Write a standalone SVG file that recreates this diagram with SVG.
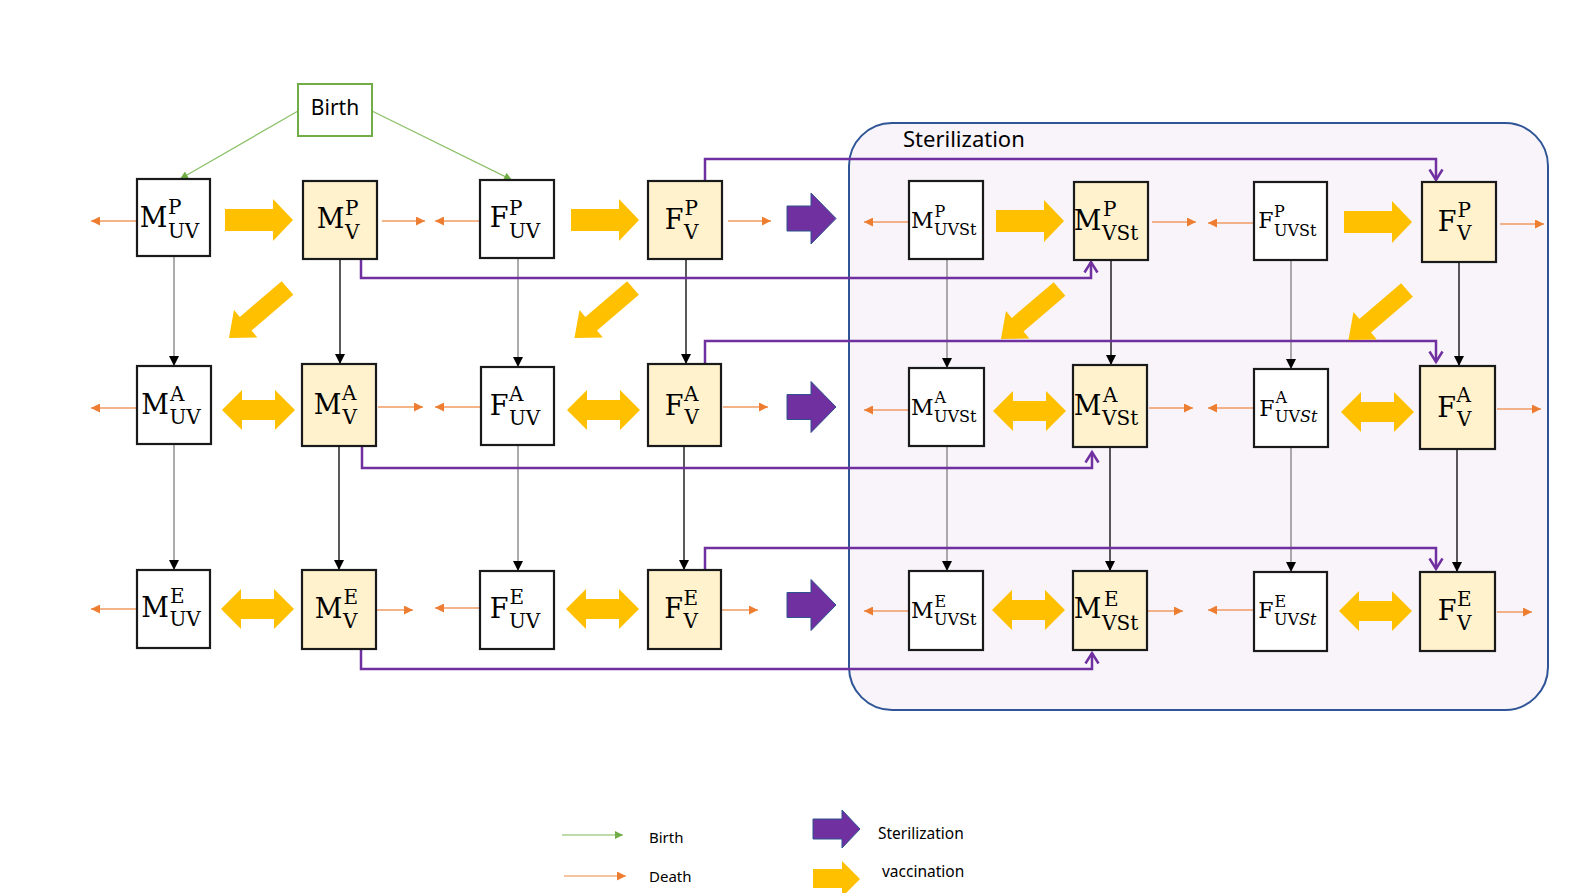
<svg xmlns="http://www.w3.org/2000/svg" width="1589" height="893" viewBox="0 0 1589 893">
<style>
.box{stroke:#1a1a1a;stroke-width:2.2;fill:#fff}
.vac{fill:#FFF2CC}
.m{font-family:"DejaVu Serif","Liberation Serif",serif;fill:#000}
.mn{text-anchor:end}
.big{font-size:27px}
.sc{font-size:20px}
.smb{font-size:22px}
.sms{font-size:16px}
.lab{font-family:"Noto Sans","Open Sans",sans-serif;fill:#000}
.pl{fill:none;stroke:#7030A0;stroke-width:2.5;marker-end:url(#mp)}
.vg{stroke:#7f7f7f;stroke-width:1.3;marker-end:url(#mb)}
.vb{stroke:#000;stroke-width:1.3;marker-end:url(#mb)}
.death{stroke:#F19B62;stroke-width:1.4;marker-end:url(#mo)}
.birth{stroke:#8CC168;stroke-width:1.3;marker-end:url(#mg)}
.yel{fill:#FFC000}
.pur{fill:#7030A0;stroke:#2F528F;stroke-width:1}
</style>
<defs>
<marker id="mb" markerUnits="userSpaceOnUse" viewBox="0 0 10 10" markerWidth="10" markerHeight="10" refX="10" refY="5" orient="auto"><path d="M0,0L10,5L0,10Z" fill="#000"/></marker>
<marker id="mo" markerUnits="userSpaceOnUse" viewBox="0 0 10 10" markerWidth="9" markerHeight="9" refX="10" refY="5" orient="auto"><path d="M0,0L10,5L0,10Z" fill="#ED7D31"/></marker>
<marker id="mg" markerUnits="userSpaceOnUse" viewBox="0 0 10 10" markerWidth="9" markerHeight="8" refX="10" refY="5" orient="auto"><path d="M0,0L10,5L0,10Z" fill="#70AD47"/></marker>
<marker id="mp" markerUnits="userSpaceOnUse" viewBox="0 0 16 16" markerWidth="16" markerHeight="16" refX="12" refY="8" orient="auto"><path d="M1.5,1.5L12,8L1.5,14.5" fill="none" stroke="#7030A0" stroke-width="2.5"/></marker>
<path id="yArrow" d="M0,-11H48V-21L68,0L48,21V11H0Z"/>
<path id="yDouble" d="M0,0L20,-20V-10H53V-20L73,0L53,20V10H20V20Z"/>
<path id="yDiag" d="M0,-9H55V-18L77,0L55,18V9H0Z"/>
<path id="pArrow" d="M0,-12.5H24V-25.5L49,0L24,25.5V12.5H0Z"/>
</defs>
<rect width="1589" height="893" fill="#fff"/>

<g id="sterilization">
<rect x="849" y="123" width="699" height="587" rx="43" fill="#F8F4FA" stroke="#2F5597" stroke-width="2"/>
<text x="903" y="147" class="lab" font-size="22">Sterilization</text>
</g>

<g id="connectors">
<g id="birth-links">
<line class="birth" x1="298" y1="111" x2="180" y2="179"/>
<line class="birth" x1="372" y1="111" x2="512" y2="180"/>
</g>
<g id="ageing">
<line class="vg" x1="174" y1="256" x2="174" y2="366"/>
<line class="vg" x1="174" y1="444" x2="174" y2="570"/>
<line class="vb" x1="340" y1="259" x2="340" y2="364"/>
<line class="vb" x1="339" y1="446" x2="339" y2="570"/>
<line class="vg" x1="518" y1="258" x2="518" y2="367"/>
<line class="vg" x1="518" y1="445" x2="518" y2="571"/>
<line class="vb" x1="686" y1="259" x2="686" y2="364"/>
<line class="vb" x1="684" y1="446" x2="684" y2="570"/>
<line class="vg" x1="947" y1="259" x2="947" y2="368"/>
<line class="vg" x1="947" y1="446" x2="947" y2="571"/>
<line class="vb" x1="1111" y1="260" x2="1111" y2="365"/>
<line class="vb" x1="1110" y1="447" x2="1110" y2="571"/>
<line class="vg" x1="1291" y1="260" x2="1291" y2="369"/>
<line class="vg" x1="1291" y1="447" x2="1291" y2="572"/>
<line class="vb" x1="1459" y1="262" x2="1459" y2="366"/>
<line class="vb" x1="1457" y1="449" x2="1457" y2="572"/>
</g>
<g id="deaths">
<line class="death" x1="137" y1="221" x2="91" y2="221"/>
<line class="death" x1="382" y1="221" x2="425" y2="221"/>
<line class="death" x1="480" y1="221" x2="435" y2="221"/>
<line class="death" x1="728" y1="221" x2="771" y2="221"/>
<line class="death" x1="909" y1="222" x2="864" y2="222"/>
<line class="death" x1="1152" y1="222" x2="1196" y2="222"/>
<line class="death" x1="1254" y1="223" x2="1208" y2="223"/>
<line class="death" x1="1500" y1="224" x2="1544" y2="224"/>
<line class="death" x1="137" y1="408" x2="91" y2="408"/>
<line class="death" x1="378" y1="407" x2="423" y2="407"/>
<line class="death" x1="481" y1="407" x2="435" y2="407"/>
<line class="death" x1="723" y1="407" x2="768" y2="407"/>
<line class="death" x1="909" y1="410" x2="864" y2="410"/>
<line class="death" x1="1149" y1="408" x2="1193" y2="408"/>
<line class="death" x1="1254" y1="408" x2="1208" y2="408"/>
<line class="death" x1="1497" y1="409" x2="1541" y2="409"/>
<line class="death" x1="137" y1="609" x2="91" y2="609"/>
<line class="death" x1="377" y1="610" x2="413" y2="610"/>
<line class="death" x1="480" y1="608" x2="435" y2="608"/>
<line class="death" x1="722" y1="610" x2="758" y2="610"/>
<line class="death" x1="909" y1="611" x2="864" y2="611"/>
<line class="death" x1="1148" y1="611" x2="1183" y2="611"/>
<line class="death" x1="1254" y1="610" x2="1208" y2="610"/>
<line class="death" x1="1497" y1="612" x2="1532" y2="612"/>
</g>
<g id="sterilization-links">
<path class="pl" d="M361,259V278H1091V262"/>
<path class="pl" d="M362,447V468H1092V452"/>
<path class="pl" d="M361,649V669H1092V653"/>
<path class="pl" d="M705,181V159H1436V180"/>
<path class="pl" d="M705,364V341H1436V362"/>
<path class="pl" d="M705,570V548H1436V569"/>
</g>
<g id="vaccination-arrows" class="yel">
<use href="#yArrow" x="225" y="220"/>
<use href="#yArrow" x="571" y="220"/>
<use href="#yArrow" x="996" y="221"/>
<use href="#yArrow" x="1344" y="222"/>
<use href="#yDouble" x="222" y="410"/>
<use href="#yDouble" x="567" y="410"/>
<use href="#yDouble" x="993" y="411"/>
<use href="#yDouble" x="1341" y="412"/>
<use href="#yDouble" x="221" y="609"/>
<use href="#yDouble" x="566" y="609"/>
<use href="#yDouble" x="992" y="610"/>
<use href="#yDouble" x="1339" y="611"/>
<use href="#yDiag" transform="translate(287.5,288) rotate(139.5)"/>
<use href="#yDiag" transform="translate(633,288) rotate(139.5)"/>
<use href="#yDiag" transform="translate(1059.5,289) rotate(139.5)"/>
<use href="#yDiag" transform="translate(1407,290) rotate(139.5)"/>
</g>
<g id="sterilization-arrows" class="pur">
<use href="#pArrow" x="787" y="218.5"/>
<use href="#pArrow" x="787" y="407"/>
<use href="#pArrow" x="787" y="605"/>
</g>
</g>

<g id="Birth"><rect x="298" y="84" width="74" height="52" fill="#fff" stroke="#70AD47" stroke-width="2"/><text x="335" y="115" class="lab" font-size="21" text-anchor="middle">Birth</text></g>

<g id="M_P_UV"><rect class="box" x="137" y="179" width="73" height="77"/><text class="m big mn" x="167.5" y="227">M</text><text class="m sc"><tspan x="168" y="214.25">P</tspan><tspan x="168" y="237.75">UV</tspan></text></g>
<g id="M_P_V"><rect class="box vac" x="303" y="181" width="74" height="78"/><text class="m big mn" x="344.5" y="228">M</text><text class="m sc"><tspan x="345" y="215.25">P</tspan><tspan x="345" y="238.75">V</tspan></text></g>
<g id="F_P_UV"><rect class="box" x="480" y="180" width="74" height="78"/><text class="m big mn" x="508.5" y="227">F</text><text class="m sc"><tspan x="509" y="214.75">P</tspan><tspan x="509" y="238.25">UV</tspan></text></g>
<g id="F_P_V"><rect class="box vac" x="648" y="181" width="74" height="78"/><text class="m big mn" x="683.5" y="229">F</text><text class="m sc"><tspan x="684.5" y="215.25">P</tspan><tspan x="684" y="238.75">V</tspan></text></g>
<g id="M_P_UVSt"><rect class="box" x="909" y="181" width="74" height="78"/><text class="m smb mn" x="933.5" y="228">M</text><text class="m sms"><tspan x="934.5" y="216.6">P</tspan><tspan x="934" y="235.4">UVSt</tspan></text></g>
<g id="M_P_VSt"><rect class="box vac" x="1074" y="182" width="74" height="78"/><text class="m big mn" x="1101.5" y="230">M</text><text class="m sc"><tspan x="1103" y="216.25">P</tspan><tspan x="1102" y="239.75">VSt</tspan></text></g>
<g id="F_P_UVSt"><rect class="box" x="1254" y="182" width="73" height="78"/><text class="m smb mn" x="1273.5" y="228">F</text><text class="m sms"><tspan x="1274" y="217.1">P</tspan><tspan x="1274" y="235.9">UVSt</tspan></text></g>
<g id="F_P_V_St"><rect class="box vac" x="1422" y="182" width="74" height="80"/><text class="m big mn" x="1456.5" y="231">F</text><text class="m sc"><tspan x="1457.5" y="216.75">P</tspan><tspan x="1457" y="240.25">V</tspan></text></g>

<g id="M_A_UV"><rect class="box" x="137" y="366" width="74" height="78"/><text class="m big mn" x="169" y="414">M</text><text class="m sc"><tspan x="170" y="400.75">A</tspan><tspan x="169.5" y="424.25">UV</tspan></text></g>
<g id="M_A_V"><rect class="box vac" x="302" y="364" width="74" height="82"/><text class="m big mn" x="341.5" y="414">M</text><text class="m sc"><tspan x="342" y="400.25">A</tspan><tspan x="342.5" y="423.75">V</tspan></text></g>
<g id="F_A_UV"><rect class="box" x="481" y="367" width="73" height="78"/><text class="m big mn" x="508.5" y="415">F</text><text class="m sc"><tspan x="509" y="401.25">A</tspan><tspan x="509" y="424.75">UV</tspan></text></g>
<g id="F_A_V"><rect class="box vac" x="648" y="364" width="73" height="82"/><text class="m big mn" x="683.5" y="415">F</text><text class="m sc"><tspan x="684" y="400.75">A</tspan><tspan x="684.5" y="424.25">V</tspan></text></g>
<g id="M_A_UVSt"><rect class="box" x="909" y="368" width="75" height="78"/><text class="m smb mn" x="933.5" y="415">M</text><text class="m sms"><tspan x="934.5" y="403.1">A</tspan><tspan x="934" y="421.9">UVSt</tspan></text></g>
<g id="M_A_VSt"><rect class="box vac" x="1073" y="365" width="74" height="82"/><text class="m big mn" x="1101.5" y="415">M</text><text class="m sc"><tspan x="1103" y="401.75">A</tspan><tspan x="1102" y="425.25">VSt</tspan></text></g>
<g id="F_A_UVSt"><rect class="box" x="1254" y="369" width="74" height="78"/><text class="m smb mn" x="1274.5" y="416">F</text><text class="m sms"><tspan x="1275.5" y="403.1">A</tspan><tspan x="1275" y="421.9">UV<tspan font-style="italic">St</tspan></tspan></text></g>
<g id="F_A_V_St"><rect class="box vac" x="1420" y="366" width="75" height="83"/><text class="m big mn" x="1456" y="417">F</text><text class="m sc"><tspan x="1456.5" y="402.25">A</tspan><tspan x="1457" y="425.75">V</tspan></text></g>

<g id="M_E_UV"><rect class="box" x="137" y="570" width="73" height="78"/><text class="m big mn" x="169" y="617">M</text><text class="m sc"><tspan x="170" y="602.75">E</tspan><tspan x="169.5" y="626.25">UV</tspan></text></g>
<g id="M_E_V"><rect class="box vac" x="302" y="570" width="74" height="79"/><text class="m big mn" x="342.5" y="618">M</text><text class="m sc"><tspan x="343.5" y="604.25">E</tspan><tspan x="343" y="627.75">V</tspan></text></g>
<g id="F_E_UV"><rect class="box" x="480" y="571" width="74" height="78"/><text class="m big mn" x="508.5" y="618">F</text><text class="m sc"><tspan x="509.5" y="604.25">E</tspan><tspan x="509" y="627.75">UV</tspan></text></g>
<g id="F_E_V"><rect class="box vac" x="648" y="570" width="73" height="79"/><text class="m big mn" x="683" y="618">F</text><text class="m sc"><tspan x="683.5" y="604.75">E</tspan><tspan x="683.5" y="628.25">V</tspan></text></g>
<g id="M_E_UVSt"><rect class="box" x="909" y="571" width="74" height="79"/><text class="m smb mn" x="933.5" y="618">M</text><text class="m sms"><tspan x="934.5" y="606.6">E</tspan><tspan x="934" y="625.4">UVSt</tspan></text></g>
<g id="M_E_VSt"><rect class="box vac" x="1073" y="571" width="74" height="79"/><text class="m big mn" x="1101.5" y="618">M</text><text class="m sc"><tspan x="1104" y="606.25">E</tspan><tspan x="1102" y="629.75">VSt</tspan></text></g>
<g id="F_E_UVSt"><rect class="box" x="1254" y="572" width="73" height="79"/><text class="m smb mn" x="1273.5" y="618">F</text><text class="m sms"><tspan x="1274.5" y="606.6">E</tspan><tspan x="1274" y="625.4">UV<tspan font-style="italic">St</tspan></tspan></text></g>
<g id="F_E_V_St"><rect class="box vac" x="1420" y="572" width="75" height="79"/><text class="m big mn" x="1456.5" y="620">F</text><text class="m sc"><tspan x="1457" y="606.25">E</tspan><tspan x="1457" y="629.75">V</tspan></text></g>

<g id="legend">
<line x1="562" y1="835" x2="623" y2="835" stroke="#A9D18E" stroke-width="1.3" marker-end="url(#mg)"/>
<text x="649" y="843" class="lab" font-size="15">Birth</text>
<line x1="564" y1="876" x2="626" y2="876" stroke="#F4B183" stroke-width="1.3" marker-end="url(#mo)"/>
<text x="649" y="882" class="lab" font-size="15">Death</text>
<path class="pur" d="M813,819H842V810L860,829L842,848V839H813Z"/>
<text x="878" y="839" class="lab" font-size="15.5">Sterilization</text>
<path class="yel" d="M813,869H842V861L860,879L842,897V888H813Z"/>
<text x="882" y="877" class="lab" font-size="15.5">vaccination</text>
</g>
</svg>
